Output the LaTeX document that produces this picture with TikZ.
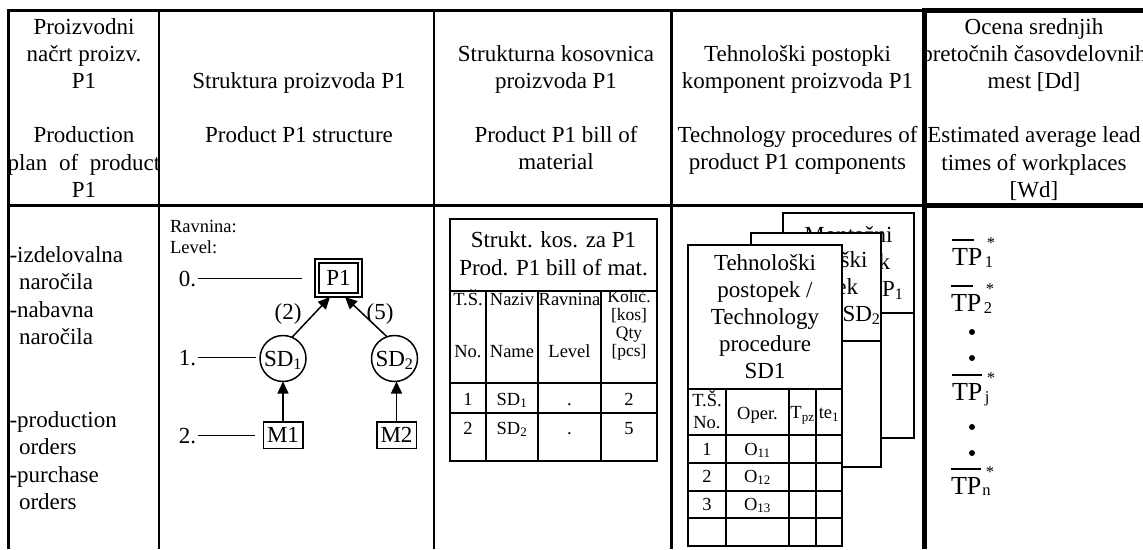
\documentclass[tikz,border=0pt]{standalone}
\usepackage{fontspec}
\setmainfont{Liberation Serif}
\usetikzlibrary{arrows.meta}
\begin{document}
\begin{tikzpicture}[x=1pt,y=-1pt,
 every node/.style={inner sep=0pt,outer sep=0pt},
 fbig/.style={font=\fontsize{23}{27.2}\selectfont},
 fbody/.style={font=\fontsize{23}{27.6}\selectfont},
 fmid/.style={font=\fontsize{18.5}{22}\selectfont},
 flev/.style={font=\fontsize{18.5}{21}\selectfont},
 fsml/.style={font=\fontsize{17.5}{18}\selectfont},
 ftp/.style={font=\fontsize{26}{30}\selectfont},
 fsub/.style={font=\fontsize{16.5}{18}\selectfont},
 gridthin/.style={line width=2.5pt},
 gridthick/.style={line width=5pt},
 fine/.style={line width=1.5pt},
 card/.style={line width=1.5pt, fill=white},
 arr/.style={line width=1.5pt, -{Triangle[length=12pt,width=11pt]}},
 tpbar/.style={line width=1.3pt}]

\fill[white] (0,0) rectangle (1143,549);
\useasboundingbox (0,0) rectangle (1143,549);

% ---------- outer table ----------
\draw[gridthin] (7.4,10.5) -- (924.5,10.5);
\draw[gridthick] (924.5,10.5) -- (1143,10.5);
\draw[gridthin] (8.7,10.5) -- (8.7,549);
\draw[gridthin] (159,10.5) -- (159,549);
\draw[gridthin] (434,10.5) -- (434,549);
\draw[gridthin] (671.5,10.5) -- (671.5,549);
\draw[gridthick] (924.5,8) -- (924.5,549);
\draw[gridthin] (7.4,205.5) -- (924.5,205.5);
\draw[gridthick] (924.5,205.5) -- (1143,205.5);

% ---------- header texts ----------
\node[fbig, align=center, anchor=north] (h1) at (84,15)
  {\strut Proizvodni\\ načrt proizv.\\ P1\\[27.2pt] Production\\ plan\hspace{6pt} of\hspace{6pt} product\\ P1};
\node[fbig, align=center, anchor=north] (h2) at (299,69)
  {\strut Struktura proizvoda P1\\[27.2pt] Product P1 structure};
\node[fbig, align=center, anchor=north] (h3) at (556,42)
  {\strut Strukturna kosovnica\\ proizvoda P1\\[27.2pt] Product P1 bill of\\ material};
\node[fbig, align=center, anchor=north] (h4) at (797.5,42)
  {\strut Tehnološki postopki\\ komponent proizvoda P1\\[27.2pt] Technology procedures of\\ product P1 components};
\node[fbig, align=center, anchor=north] (h5) at (1034,15)
  {\strut Ocena srednjih\\ pretočnih časovdelovnih\\ mest [Dd]\\[27.2pt] Estimated average lead\\ times of workplaces\\ {[Wd]}};

% ---------- column 1 body ----------
\node[fbody, align=left, anchor=north west] (b1a) at (9.5,242.7)
  {\strut -izdelovalna\\ \hspace*{9.5pt}naročila\\ -nabavna\\ \hspace*{9.5pt}naročila};
\node[fbody, align=left, anchor=north west] (b1b) at (9.5,407.7)
  {\strut -production\\ \hspace*{9.5pt}orders\\ -purchase\\ \hspace*{9.5pt}orders};

% ---------- column 2: product structure ----------
\node[flev, align=left, anchor=north west] (rav) at (170,217.3) {\strut Ravnina:\\ Level:};
\node[fbig, anchor=base east] (l0) at (196,286) {0.};
\node[fbig, anchor=base east] (l1) at (196,365) {1.};
\node[fbig, anchor=base east] (l2) at (196,443) {2.};

\node[fbig, draw, line width=1.5pt, double, double distance=2.5pt,
      minimum width=43pt, minimum height=34pt] (P1) at (338.5,278) {P1};
\node[fbig, draw, circle, line width=1.5pt, minimum size=46pt, text depth=0pt] (SD1) at (283,358.5) {SD\textsubscript{1}};
\node[fbig, draw, circle, line width=1.5pt, minimum size=46pt, text depth=0pt] (SD2) at (394.5,358.5) {SD\textsubscript{2}};
\node[fbig, draw, line width=1.5pt, minimum width=39.5pt, minimum height=26.5pt] (M1) at (283,435) {M1};
\node[fbig, draw, line width=1.5pt, minimum width=39.5pt, minimum height=26.5pt] (M2) at (396.5,435) {M2};

\draw[fine] ([xshift=2pt]l0.east) -- ([xshift=-15pt]l0.east -| P1.west);
\draw[fine] ([xshift=2pt]l1.east) -- ([xshift=-4pt]l1.east -| SD1.west);
\draw[fine] ([xshift=2pt]l2.east) -- ([xshift=-8pt]l2.east -| M1.west);

\draw[arr] (M1.north) -- (SD1.south);
\draw[arr] (M2.north) -- (M2.north |- SD2.south);
\draw[arr] (SD1.67) -- ([xshift=-8.5pt,yshift=-2pt]P1.south);
\draw[arr] (SD2.109) -- ([xshift=6.5pt,yshift=-2pt]P1.south);
\node[fbig] (q2) at (288,313.5) {(2)};
\node[fbig] (q5) at (380,313.5) {(5)};

% ---------- column 3: bill of material ----------
\draw[fine] (450,219) rectangle (657,461);
\draw[fine] (450,291) -- (657,291);
\draw[fine] (450,383) -- (657,383);
\draw[fine] (450,413) -- (657,413);
\draw[fine] (486,291) -- (486,461);
\draw[fine] (538,291) -- (538,461);
\draw[fine] (601,291) -- (601,461);
\node[font=\fontsize{23}{28}\selectfont, align=center, anchor=north] (bomt) at (553.5,227.4)
  {\strut Strukt. kos. za P1\\ Prod. P1 bill of mat.};
\node[fmid, anchor=base] (bh1a) at (468,305) {T.Š.};
\node[fmid, anchor=base] (bh1b) at (468,357) {No.};
\node[fmid, anchor=base] (bh2a) at (512,305) {Naziv};
\node[fmid, anchor=base] (bh2b) at (512,357) {Name};
\node[fmid, anchor=base] (bh3a) at (569.5,305) {Ravnina};
\node[fmid, anchor=base] (bh3b) at (569.5,357) {Level};
\node[fsml, align=center, anchor=north] (bh4) at (629,289.4)
  {\strut Količ.\\ {[kos]}\\ Qty\\ {[pcs]}};
\node[fmid, anchor=base] (r1a) at (468,405) {1};
\node[fmid, anchor=base] (r1b) at (512,405) {SD\textsubscript{1}};
\node[fmid, anchor=base] (r1c) at (569.5,405) {.};
\node[fmid, anchor=base] (r1d) at (629,405) {2};
\node[fmid, anchor=base] (r2a) at (468,434) {2};
\node[fmid, anchor=base] (r2b) at (512,434) {SD\textsubscript{2}};
\node[fmid, anchor=base] (r2c) at (569.5,434) {.};
\node[fmid, anchor=base] (r2d) at (629,434) {5};

% ---------- column 4: stacked procedure cards ----------
\draw[card] (783,213) rectangle (914,438);
\draw[fine] (783,313) -- (914,313);
\node[fbig, anchor=base] (c3a) at (848.5,242) {Montažni};
\node[fbig, anchor=base] (c3b) at (848.5,269) {postopek};
\node[fbig, anchor=base west] (c3c) at (882,296) {P\textsubscript{1}};

\draw[card] (751,233) rectangle (881,467);
\draw[fine] (751,341) -- (881,341);
\node[fbig, anchor=base] (c2a) at (816.5,267) {Tehnološki};
\node[fbig, anchor=base] (c2b) at (816.5,294) {postopek};
\node[fbig, anchor=base west] (c2c) at (842.5,321) {SD\textsubscript{2}};

\draw[card] (688,245) rectangle (842,546);
\node[fbig, align=center, anchor=north] (c1t) at (765,251)
  {\strut Tehnološki\\ postopek /\\ Technology\\ procedure\\ SD1};
\draw[fine] (688,389) -- (842,389);
\draw[fine] (688,435) -- (842,435);
\draw[fine] (688,463) -- (842,463);
\draw[fine] (688,491) -- (842,491);
\draw[fine] (688,518) -- (842,518);
\draw[fine] (726,389) -- (726,546);
\draw[fine] (789,389) -- (789,546);
\draw[fine] (816,389) -- (816,546);
\node[fmid, anchor=base] (ch1a) at (707,406) {T.Š.};
\node[fmid, anchor=base] (ch1b) at (707,428) {No.};
\node[fmid, anchor=base] (ch2) at (757.5,419) {Oper.};
\node[fmid, anchor=base] (ch3) at (802.5,418.5) {T\textsubscript{pz}};
\node[fmid, anchor=base] (ch4) at (829,418.5) {te\textsubscript{1}};
\node[fmid, anchor=base] (cr1a) at (707,455) {1};
\node[fmid, anchor=base] (cr1b) at (757.5,455) {O\textsubscript{11}};
\node[fmid, anchor=base] (cr2a) at (707,482) {2};
\node[fmid, anchor=base] (cr2b) at (757.5,482) {O\textsubscript{12}};
\node[fmid, anchor=base] (cr3a) at (707,510) {3};
\node[fmid, anchor=base] (cr3b) at (757.5,510) {O\textsubscript{13}};

% ---------- column 5: lead times ----------
\node[ftp, anchor=base west] (tp1) at (952,265) {TP};
\node[ftp, anchor=base west] (tp2) at (951,311) {TP};
\node[ftp, anchor=base west] (tpj) at (952,400) {TP};
\node[ftp, anchor=base west] (tpn) at (951,494) {TP};
\draw[tpbar] ([yshift=8pt]tp1.north west) -- ([yshift=8pt,xshift=-8pt]tp1.north east);
\draw[tpbar] ([yshift=8pt]tp2.north west) -- ([yshift=8pt,xshift=-8pt]tp2.north east);
\draw[tpbar] ([yshift=8pt]tpj.north west) -- ([yshift=8pt]tpj.north east);
\draw[tpbar] ([yshift=8pt]tpn.north west) -- ([yshift=8pt]tpn.north east);
\node[fsub, anchor=base west] (s1) at ([xshift=2.5pt,yshift=-2pt]tp1.base east) {1};
\node[fsub, anchor=base west] (s2) at ([xshift=2.5pt,yshift=-2pt]tp2.base east) {2};
\node[fsub, anchor=base west] (sj) at ([xshift=2.5pt,yshift=-2pt]tpj.base east) {j};
\node[fsub, anchor=base west] (sn) at ([xshift=1pt,yshift=-1pt]tpn.base east) {n};
\node[fsub, anchor=base west] (a1) at ([xshift=4.5pt,yshift=17pt]tp1.base east) {*};
\node[fsub, anchor=base west] (a2) at ([xshift=4.5pt,yshift=17pt]tp2.base east) {*};
\node[fsub, anchor=base west] (aj) at ([xshift=4.5pt,yshift=17pt]tpj.base east) {*};
\node[fsub, anchor=base west] (an) at ([xshift=4.5pt,yshift=17pt]tpn.base east) {*};
\fill (972,332) circle (3pt);
\fill (972,358) circle (3pt);
\fill (972,427) circle (3pt);
\fill (972,453) circle (3pt);
\end{tikzpicture}
\end{document}
